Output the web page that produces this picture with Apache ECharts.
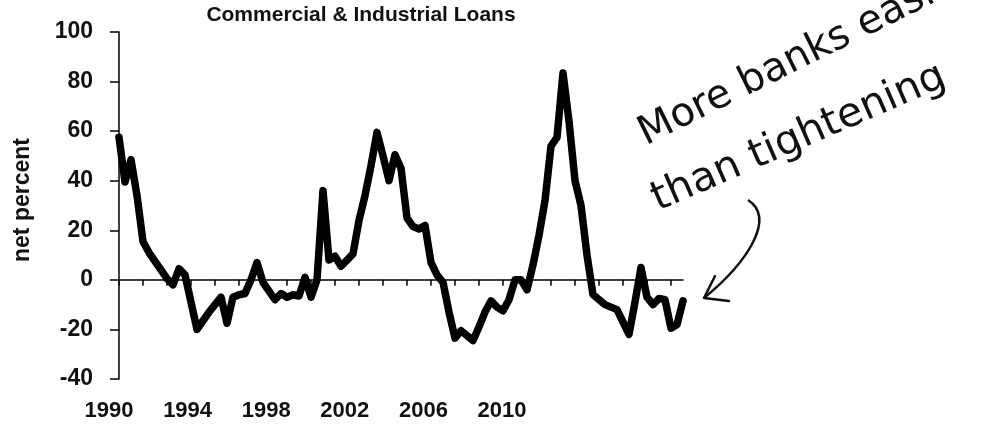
<!DOCTYPE html>
<html>
<head>
<meta charset="utf-8">
<script src="https://cdn.jsdelivr.net/npm/echarts@6/dist/echarts.min.js"></script>
<style>
  html, body { margin: 0; padding: 0; background: #fff; }
  #chart { width: 1008px; height: 427px; }
</style>
</head>
<body>
<div id="chart"></div>
<script>
// ---- data ----
const titleText = 'Commercial & Industrial Loans';
const yAxisName = 'net percent';
const startYear = 1990;
const startQuarter = 2;
// net percent of banks tightening standards, quarterly
const netPercent = [
  57.5, 39.5, 48.5, 34, 15.5, 11, 7.5, 4, 0.5, -2,
  4.5, 2, -9, -20, -16.5, -13, -10, -7, -17.5, -7,
  -6, -5.5, 0, 7, -1, -4.5, -8, -5.5, -7, -6,
  -6.5, 1, -7, 0, 36, 8, 9.5, 5.5, 8, 10.5,
  24, 34, 46, 59.5, 50, 40, 50.5, 45, 25, 21.5,
  20.5, 22, 7, 2, -1, -13, -23.5, -20.5, -22.5, -24.5,
  -19, -13, -8.5, -11, -12.5, -8, 0, 0, -4, 6,
  18, 32, 54, 57.5, 83.5, 64, 40, 30, 10, -6,
  -8, -10, -11, -12, -17, -22, -9, 5, -7, -10,
  -7.5, -8, -19.5, -18, -8.5
];
const yearLabels = ['1990', '1994', '1998', '2002', '2006', '2010'];
const yMin = -40, yMax = 100, yStep = 20;
const noteLine1 = 'More banks easing';
const noteLine2 = 'than tightening';

const quarters = netPercent.map((_, i) => {
  const q = startQuarter - 1 + i;
  return (startYear + Math.floor(q / 4)) + 'Q' + (q % 4 + 1);
});

const FONT = 'Arial, "Liberation Sans", sans-serif';
const HAND = '"DejaVu Sans", sans-serif';

const chart = echarts.init(document.getElementById('chart'), null, { renderer: 'canvas' });
chart.setOption({
  animation: false,
  backgroundColor: '#ffffff',
  title: {
    text: titleText,
    left: 356, top: 0, textAlign: 'center',
    textStyle: { fontFamily: FONT, fontSize: 21, fontWeight: 'bold', color: '#111' }
  },
  grid: [
    { left: 119, right: 325, top: 32, bottom: 48 },
    { left: 109, width: 393, top: 32, bottom: 48 }
  ],
  xAxis: [
    {
      type: 'category', gridIndex: 0, data: quarters, boundaryGap: false,
      axisLine: { onZero: true, lineStyle: { color: '#000', width: 1.5 } },
      axisTick: { show: true, interval: 3, length: 6, lineStyle: { color: '#000', width: 1.5 } },
      axisLabel: { show: false },
      splitLine: { show: false }
    },
    {
      type: 'category', gridIndex: 1, data: yearLabels, boundaryGap: false,
      axisLine: { show: false }, axisTick: { show: false },
      axisLabel: { show: true, interval: 0, margin: 21, fontFamily: FONT, fontSize: 22, fontWeight: 'bold', color: '#111' },
      splitLine: { show: false }
    }
  ],
  yAxis: [
    {
      type: 'value', gridIndex: 0, min: yMin, max: yMax, interval: yStep,
      axisLine: { show: true, lineStyle: { color: '#000', width: 1.5 } },
      axisTick: { show: true, length: 9, lineStyle: { color: '#000', width: 1.5 } },
      axisLabel: { margin: 26, fontFamily: FONT, fontSize: 23, fontWeight: 'bold', color: '#111' },
      splitLine: { show: false }
    },
    { type: 'value', gridIndex: 1, min: 0, max: 1, show: false }
  ],
  series: [
    {
      type: 'line', xAxisIndex: 0, yAxisIndex: 0, data: netPercent,
      symbol: 'none', smooth: false,
      lineStyle: { color: '#000', width: 7.5, join: 'round', cap: 'round' }
    },
    { type: 'line', xAxisIndex: 1, yAxisIndex: 1, data: [], symbol: 'none' }
  ],
  graphic: [
    {
      type: 'text', x: 23, y: 200, rotation: Math.PI / 2,
      style: { text: yAxisName, fontFamily: FONT, fontSize: 23, fontWeight: 'bold', fill: '#111', textAlign: 'center', textVerticalAlign: 'middle' }
    },
    {
      type: 'text', x: 650, y: 154, rotation: 0.46,
      style: { text: noteLine1, fontFamily: HAND, fontSize: 40, fill: '#111', textAlign: 'left', textVerticalAlign: 'bottom' }
    },
    {
      type: 'text', x: 662, y: 220, rotation: 0.41,
      style: { text: noteLine2, fontFamily: HAND, fontSize: 41, fill: '#111', textAlign: 'left', textVerticalAlign: 'bottom' }
    },
    {
      type: 'bezierCurve',
      shape: { x1: 748, y1: 200, cpx1: 776, cpy1: 218, cpx2: 748, cpy2: 262, x2: 704, y2: 298 },
      style: { stroke: '#111', lineWidth: 2.5, fill: null }
    },
    {
      type: 'polyline',
      shape: { points: [[715, 276], [704, 298], [729, 301]] },
      style: { stroke: '#111', lineWidth: 2.5, fill: null, lineJoin: 'round', lineCap: 'round' }
    }
  ]
});
</script>
</body>
</html>
